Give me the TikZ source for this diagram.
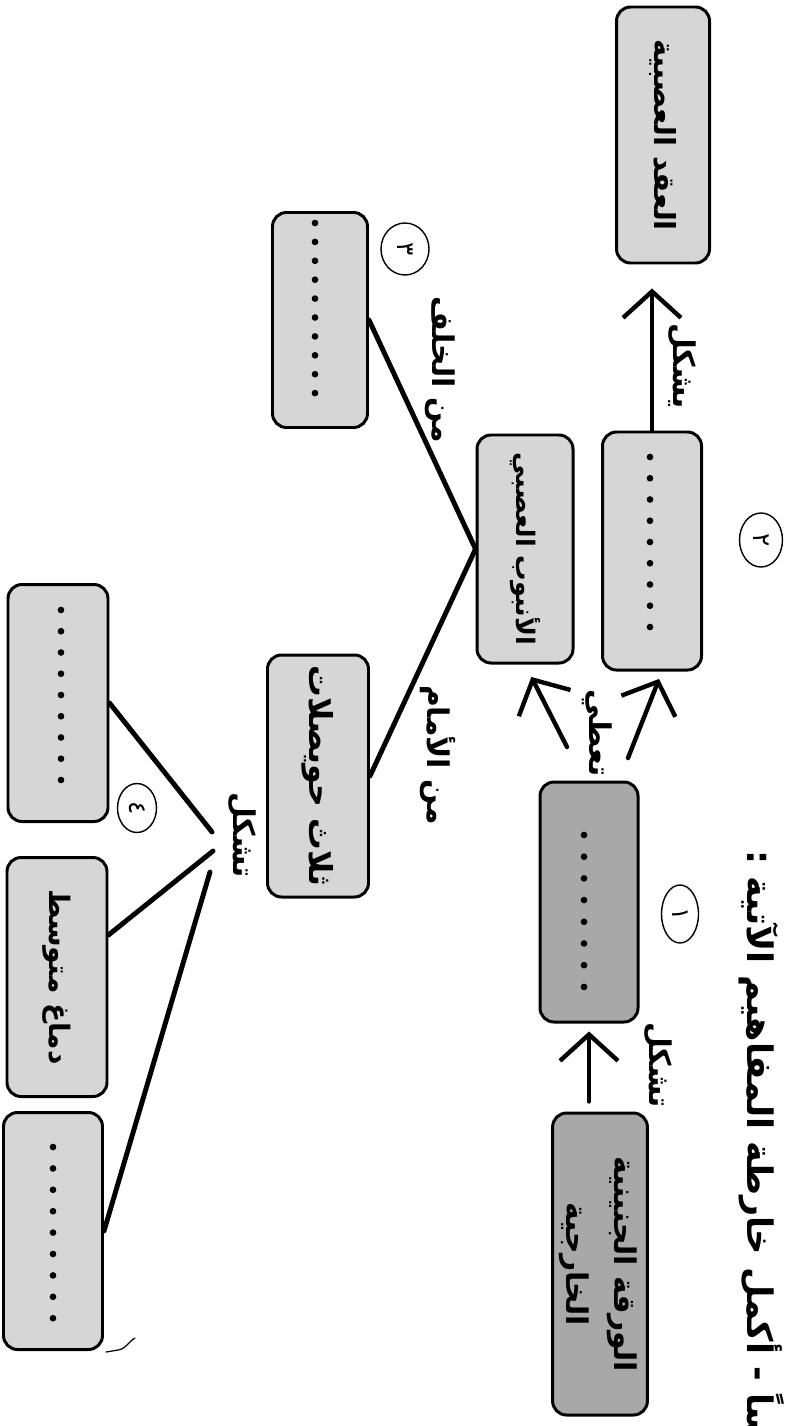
\documentclass[tikz,border=0pt]{standalone}
\usepackage{fontspec}
\usepackage{graphicx}
\usetikzlibrary{arrows.meta,calc,shapes.geometric}
\TeXXeTstate=1
\newfontfamily\ar[Script=Arabic]{DejaVu Sans}
\newlength\pxu \setlength\pxu{0.02cm}
\definecolor{boxlight}{HTML}{D6D6D6}
\definecolor{boxdark}{HTML}{A8A8A8}
\newcommand\rt[2][18]{\rotatebox{-90}{\ar\bfseries\fontsize{#1}{#1}\selectfont\beginR #2\endR}}
\begin{document}
\begin{tikzpicture}[x=0.02cm,y=-0.02cm,
  box/.style={draw=black, line width=1.7pt, rounded corners=8pt, inner sep=0pt},
  lite/.style={box, fill=boxlight},
  dark/.style={box, fill=boxdark},
  arr/.style={line width=2.5pt, line cap=round, -{Straight Barb[length=15pt,width=33pt,line width=2.5pt]}},
  link/.style={line width=2.8pt, line cap=round},
  lbl/.style={inner sep=0pt},
  num/.style={draw, ellipse, line width=0.8pt, inner sep=0pt},
]
\useasboundingbox (0,0) rectangle (794,1426);
\clip (0,0) rectangle (794,1426);
\fill[white] (0,0) rectangle (794,1426);

% title
\node[lbl, rotate=-90, anchor=west] (title) at (762,850)
  {\ar\bfseries\fontsize{20}{22}\selectfont\beginR سادساً - أكمل خارطة المفاهيم الآتية :\endR};

% boxes
\node[lite, minimum width=93\pxu, minimum height=256\pxu] (A) at (663,135) {\rt[16.5]{العقد العصبية}};
\node[lite, minimum width=99\pxu, minimum height=238\pxu] (B) at (652,551) {};
\node[lite, minimum width=96\pxu, minimum height=228\pxu] (C) at (525,549) {\rt[14.5]{الأنبوب العصبي}};
\node[dark, minimum width=98\pxu, minimum height=240\pxu] (D) at (589,902) {};
\node[dark, minimum width=88\pxu, minimum height=302\pxu] (E) at (600,1264)
  {\rotatebox{-90}{\ar\bfseries\fontsize{17}{27}\selectfont\begin{tabular}{@{}c@{}}\beginR الورقة الجنينية\endR\\\beginR الخارجية\endR\end{tabular}}};
\node[lite, minimum width=95\pxu, minimum height=215\pxu] (F) at (320,320) {};
\node[lite, minimum width=101\pxu, minimum height=242\pxu] (G) at (318,776) {\rt{ثلاث حويصلات}};
\node[lite, minimum width=100\pxu, minimum height=237\pxu] (H) at (58,703) {};
\node[lite, minimum width=100\pxu, minimum height=239\pxu] (I) at (57,977) {\rt[16]{دماغ متوسط}};
\node[lite, minimum width=99\pxu, minimum height=237\pxu] (J) at (53,1231) {};

% dotted blanks
\foreach \k in {0,...,8} \fill (650,457+\k*21.25) circle (1.9pt);
\foreach \k in {0,...,7} \fill (584,835+\k*21.7) circle (1.9pt);
\foreach \k in {0,...,9} \fill (315,223+\k*18.9) circle (1.9pt);
\foreach \k in {0,...,8} \fill (61,610+\k*21.25) circle (1.9pt);
\foreach \k in {0,...,8} \fill (53,1147+\k*21.4) circle (1.9pt);

% arrows
\draw[arr, shorten <=10\pxu, shorten >=8\pxu] (E.north -| D.south) -- (D.south);
\coordinate (d1) at (567,747);
\coordinate (d2) at (628,758);
\draw[arr, shorten >=14\pxu] (d1) -- (C.south);
\draw[arr, shorten >=8\pxu] (d2) -- ($(B.south)+(10,0)$);
\draw[arr, shorten >=24\pxu] (B.north) -- (A.south -| B.north);

% links
\draw[link] (F.east) -- (C.west) -- (G.east);
\coordinate (gH) at (212,832);
\coordinate (gI) at (213,851);
\coordinate (gJ) at (210,872);
\draw[link] (H.east) -- (gH);
\draw[link] ($(I.east)+(0,-42)$) -- (gI);
\draw[link] (J.east) -- (gJ);

% connector labels
\node[lbl] (l1) at (658,1065) {\rt[17]{تشكل}};
\node[lbl] (l2) at (597,733) {\rt[17]{تعطي}};
\node[lbl] (l3) at (682,366) {\rt[17]{يشكل}};
\node[lbl] (l4) at (440,370) {\rt[17]{من الخلف}};
\node[lbl] (l5) at (438,755) {\rt[17]{من الأمام}};
\node[lbl] (l6) at (242,835) {\rt[17]{تشكل}};

% handwritten numbers
\node[num, minimum width=37\pxu, minimum height=58\pxu] (c1) at (680,914) {\rotatebox{-90}{\ar\fontsize{14}{14}\selectfont ١}};
\node[num, minimum width=43\pxu, minimum height=54\pxu] (c2) at (761,540) {\rotatebox{-90}{\ar\fontsize{14}{14}\selectfont ٢}};
\node[num, minimum width=48\pxu, minimum height=52\pxu] (c3) at (405,249) {\rotatebox{-90}{\ar\fontsize{14}{14}\selectfont ٣}};
\node[num, minimum width=39\pxu, minimum height=49\pxu] (c4) at (137,808) {\rotatebox{-90}{\ar\fontsize{14}{14}\selectfont ٤}};

% stray pencil mark
\draw[line width=0.7pt, line cap=round] (106,1352) -- (118,1350) .. controls (126,1349) and (128,1342) .. (135,1338);
\end{tikzpicture}
\end{document}
